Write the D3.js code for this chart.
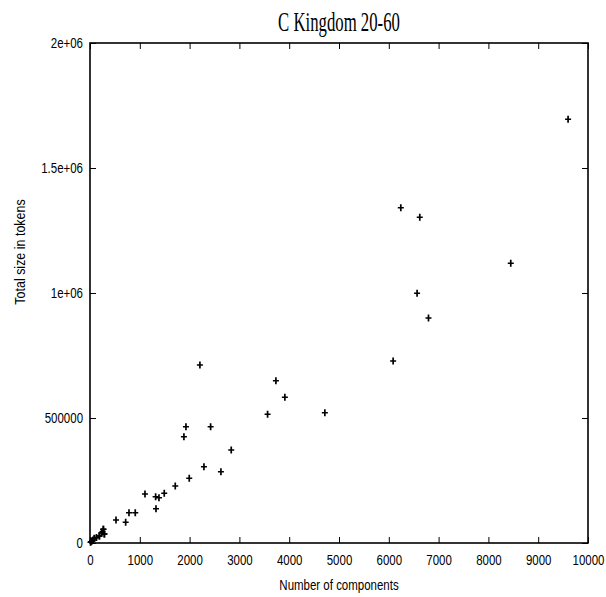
<!DOCTYPE html>
<html>
<head>
<meta charset="utf-8">
<script src="https://cdn.jsdelivr.net/npm/d3@7"></script>
<style>
  body { margin: 0; background: #fff; }
</style>
</head>
<body>
<div id="chart"></div>
<script>
// components vs total tokens
const components = [
  10, 40, 60, 90, 130, 190, 230, 250, 270, 290,
  20, 86, 187, 267, 287, 522, 716, 783, 909, 1104,
  1325, 1318, 1385, 1491, 1712, 1886, 1927, 1993, 2207, 2288,
  2422, 2629, 2836, 3566, 3733, 3913, 4716, 6087, 6241, 6568,
  6622, 6797, 8449, 9600
];
const tokens = [
  3000, 8000, 12000, 18000, 22000, 28000, 40000, 45000, 55000, 36000,
  5000, 19000, 28000, 55000, 36000, 92000, 83000, 121000, 121000, 196000,
  137000, 185000, 181000, 199000, 228000, 425000, 465000, 259000, 712000, 305000,
  465000, 285000, 372000, 515000, 649000, 583000, 521000, 728000, 1341000, 999000,
  1303000, 900000, 1119000, 1695000
];
const xTicks = [0, 1000, 2000, 3000, 4000, 5000, 6000, 7000, 8000, 9000, 10000];
const yTicks = [0, 500000, 1000000, 1500000, 2000000];
const yTickLabels = ["0", "500000", "1e+06", "1.5e+06", "2e+06"];

const W = 606, H = 597;
const margin = { top: 43, right: 18, bottom: 54, left: 90 },
      width = W - margin.left - margin.right,
      height = H - margin.top - margin.bottom;

const svg = d3.select("#chart")
  .append("svg")
    .attr("width", W)
    .attr("height", H);

const g = svg.append("g")
  .attr("transform", `translate(${margin.left},${margin.top})`);

const x = d3.scaleLinear().domain([0, 10000]).range([0, width]);
const y = d3.scaleLinear().domain([0, 2000000]).range([height, 0]);

const labelFont = "'Liberation Sans', Arial, sans-serif";
const squeeze = 0.82;

// squeeze tick text horizontally like the original (scale keeps the anchor point)
function narrow(sel) {
  sel.each(function () {
    const t = d3.select(this);
    const x0 = +t.attr("x") || 0;
    t.attr("x", x0 / squeeze).attr("transform", `scale(${squeeze},1)`);
  });
}

// bottom axis
g.append("g")
  .attr("transform", `translate(0,${height})`)
  .call(d3.axisBottom(x).tickValues(xTicks).tickFormat(d3.format("d"))
    .tickSizeInner(-6).tickSizeOuter(0).tickPadding(12))
  .call(a => a.select(".domain").remove())
  .call(a => a.selectAll("line").attr("stroke", "#000").attr("stroke-width", 1))
  .call(a => a.selectAll("text")
    .attr("font-family", labelFont).attr("font-size", "14px").attr("fill", "#000")
    .call(narrow));

// top axis, ticks only
g.append("g")
  .call(d3.axisTop(x).tickValues(xTicks).tickFormat("")
    .tickSizeInner(-6).tickSizeOuter(0))
  .call(a => a.select(".domain").remove())
  .call(a => a.selectAll("line").attr("stroke", "#000").attr("stroke-width", 1));

// left axis
g.append("g")
  .call(d3.axisLeft(y).tickValues(yTicks).tickFormat((d, i) => yTickLabels[i])
    .tickSizeInner(-6).tickSizeOuter(0).tickPadding(7))
  .call(a => a.select(".domain").remove())
  .call(a => a.selectAll("line").attr("stroke", "#000").attr("stroke-width", 1))
  .call(a => a.selectAll("text")
    .attr("font-family", labelFont).attr("font-size", "14px").attr("fill", "#000")
    .call(narrow));

// right axis, ticks only
g.append("g")
  .attr("transform", `translate(${width},0)`)
  .call(d3.axisRight(y).tickValues(yTicks).tickFormat("")
    .tickSizeInner(-6).tickSizeOuter(0))
  .call(a => a.select(".domain").remove())
  .call(a => a.selectAll("line").attr("stroke", "#000").attr("stroke-width", 1));

// frame
g.append("rect")
  .attr("width", width)
  .attr("height", height)
  .attr("fill", "none")
  .attr("stroke", "#000")
  .attr("stroke-width", 1.6);

// points as + markers
const pts = components.map((c, i) => ({ c: c, t: tokens[i] }));
g.selectAll("path.pt")
  .data(pts)
  .enter()
  .append("path")
    .attr("class", "pt")
    .attr("transform", d => `translate(${x(d.c)},${y(d.t)})`)
    .attr("d", "M-3,0H3M0,-3.5V3.5")
    .attr("stroke", "#000")
    .attr("stroke-width", 1.7)
    .attr("fill", "none");

// title
svg.append("text")
  .attr("transform", `translate(${margin.left + width / 2},31) scale(0.62,1)`)
  .attr("text-anchor", "middle")
  .attr("font-family", "'Liberation Serif', 'Times New Roman', serif")
  .attr("font-size", "27px")
  .attr("fill", "#000")
  .text("C Kingdom 20-60");

// x label
svg.append("text")
  .attr("transform", `translate(${margin.left + width / 2},590) scale(${squeeze},1)`)
  .attr("text-anchor", "middle")
  .attr("font-family", labelFont)
  .attr("font-size", "14px")
  .attr("fill", "#000")
  .text("Number of components");

// y label
svg.append("text")
  .attr("transform", "translate(25,252) rotate(-90) scale(0.86,1)")
  .attr("text-anchor", "middle")
  .attr("font-family", labelFont)
  .attr("font-size", "14.5px")
  .attr("fill", "#000")
  .text("Total size in tokens");
</script>
</body>
</html>
